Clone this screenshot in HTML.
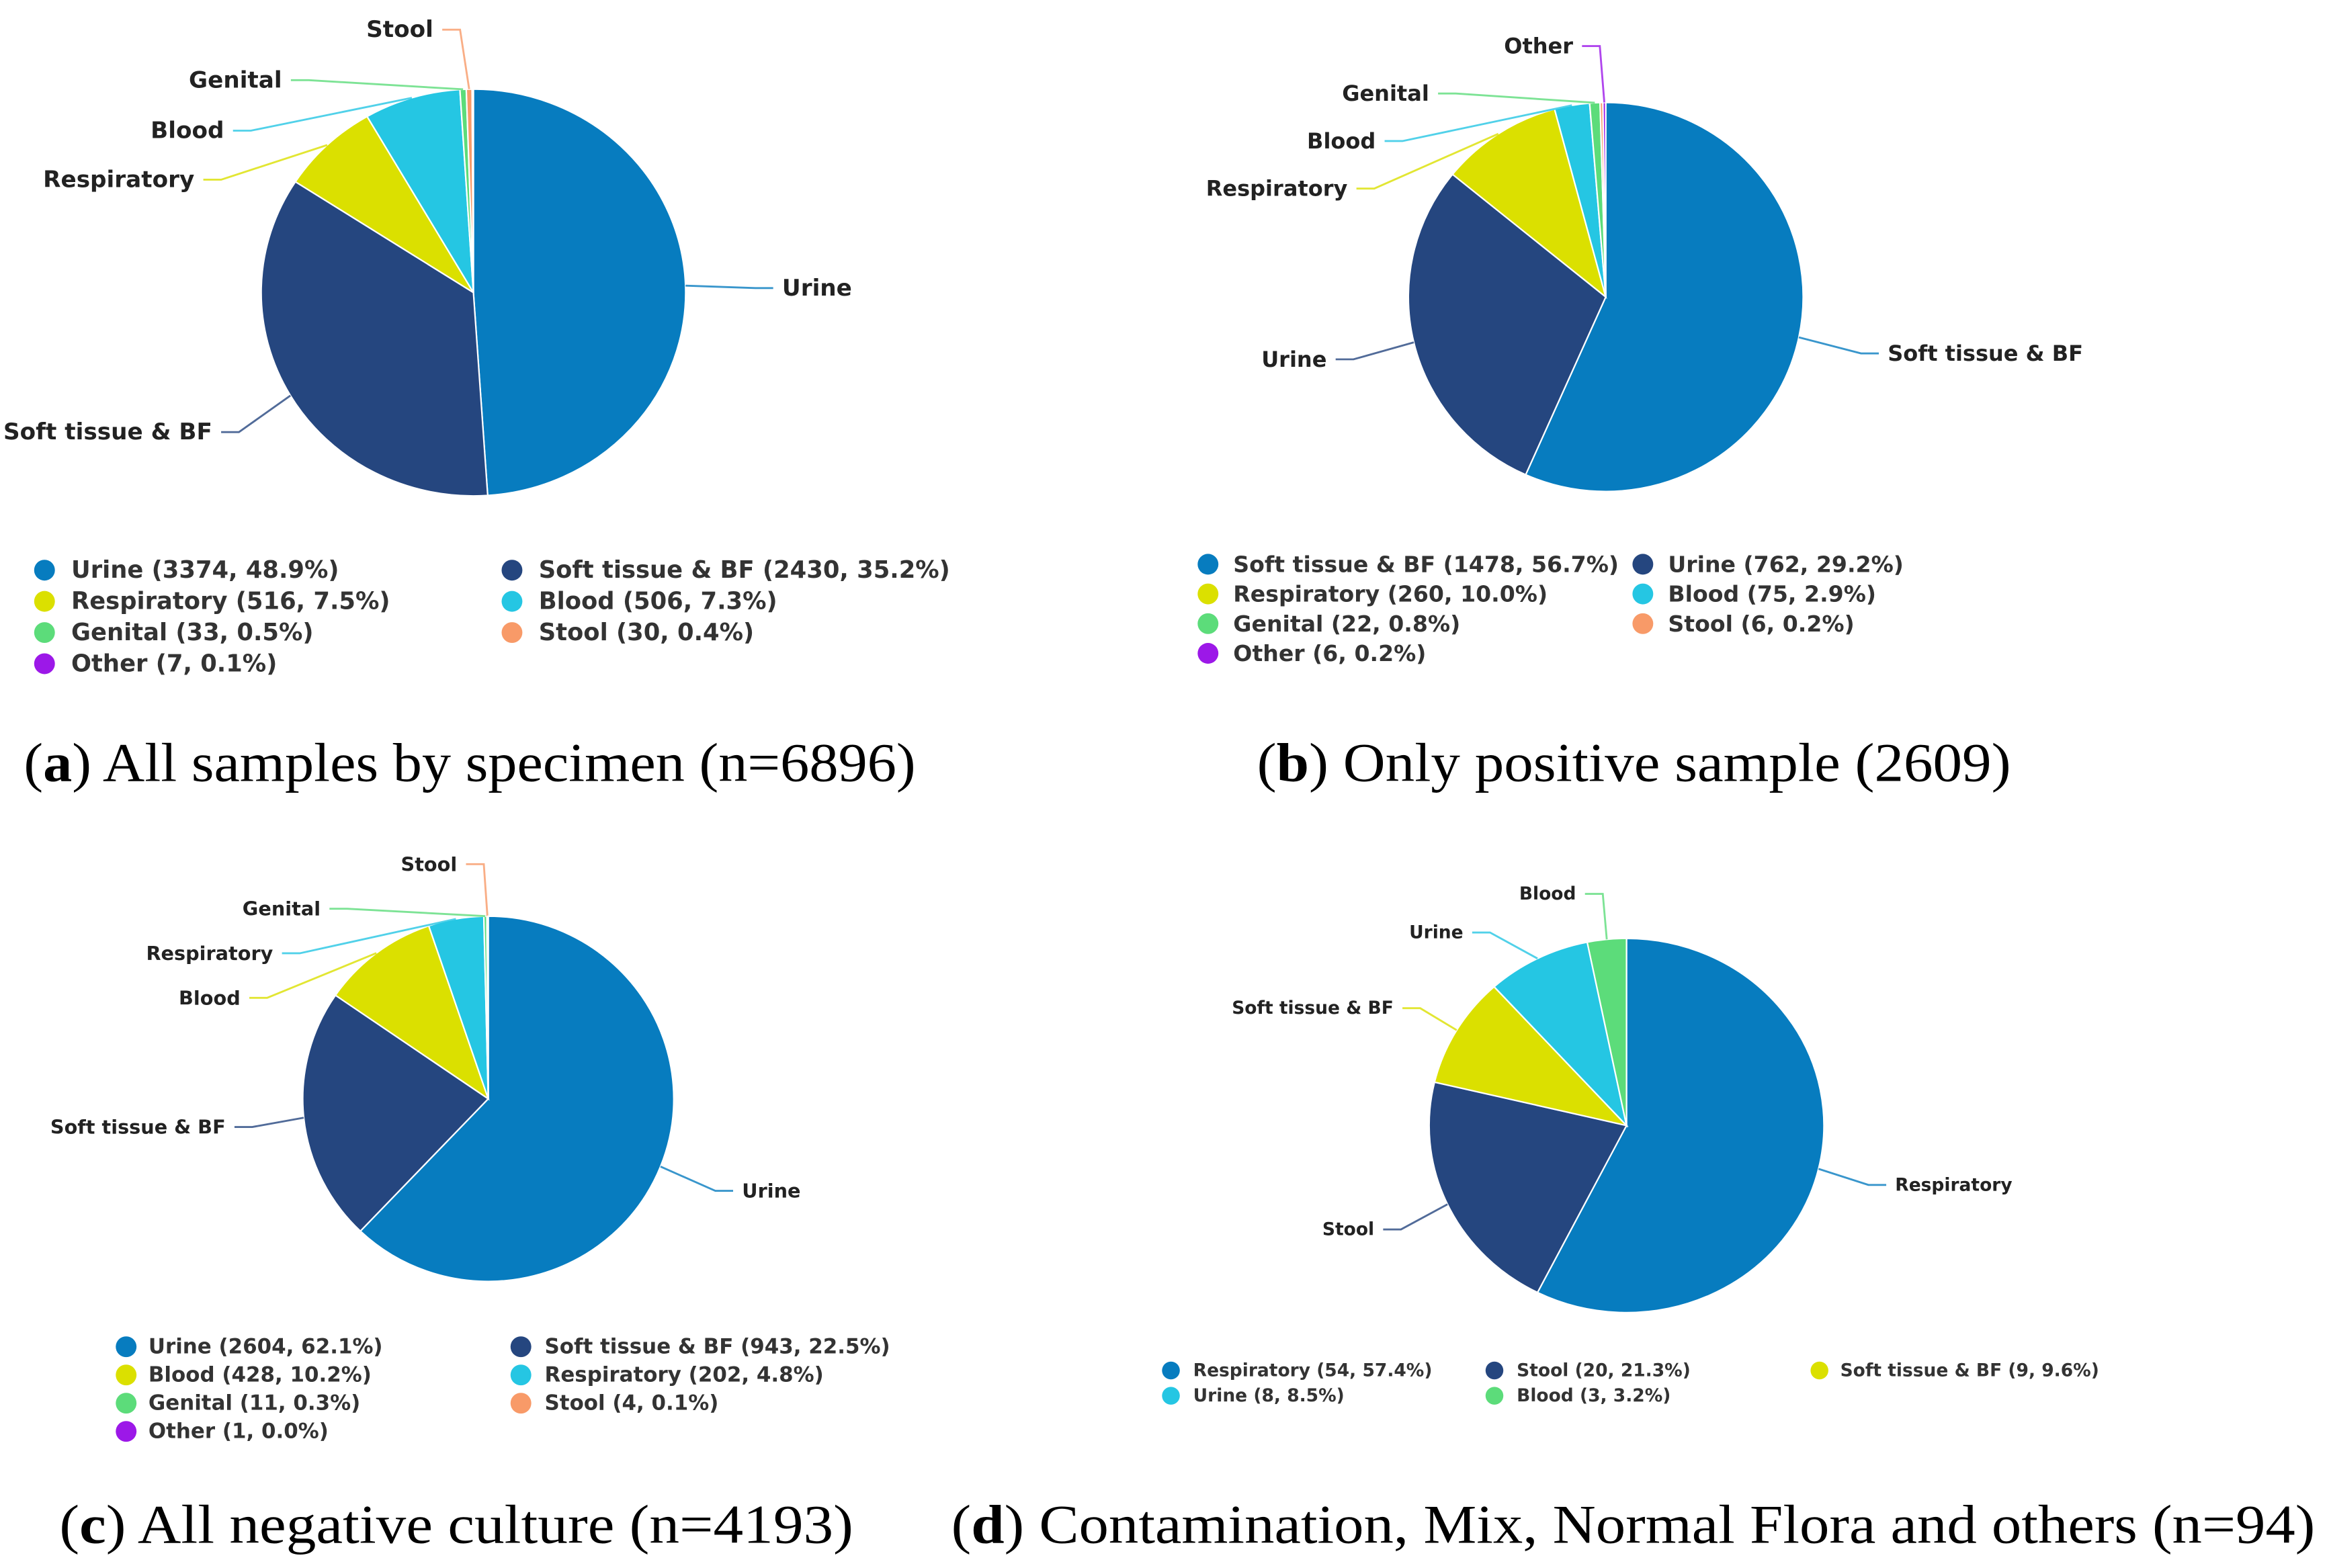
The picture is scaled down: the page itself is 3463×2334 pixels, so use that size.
<!DOCTYPE html>
<html><head><meta charset="utf-8"><style>
html,body{margin:0;padding:0;background:#fff}
svg{display:block}
.lbl{font-family:"DejaVu Sans","Liberation Sans",sans-serif;font-weight:bold;fill:#222}
.leg{font-family:"DejaVu Sans","Liberation Sans",sans-serif;font-weight:bold;fill:#333}
.cap{font-family:"Liberation Serif",serif;fill:#000}
</style></head><body>
<svg id="root" width="3463" height="2334" viewBox="0 0 1568 1056" preserveAspectRatio="none" xmlns="http://www.w3.org/2000/svg">
<text class="cap" x="16" y="526" font-size="37" textLength="601" lengthAdjust="spacingAndGlyphs">(<tspan font-weight="bold">a</tspan>) All samples by specimen (n=6896)</text>
<text class="cap" x="847" y="526" font-size="37" textLength="508" lengthAdjust="spacingAndGlyphs">(<tspan font-weight="bold">b</tspan>) Only positive sample (2609)</text>
<text class="cap" x="40" y="1039" font-size="37" textLength="535" lengthAdjust="spacingAndGlyphs">(<tspan font-weight="bold">c</tspan>) All negative culture (n=4193)</text>
<text class="cap" x="641" y="1039" font-size="37" textLength="919" lengthAdjust="spacingAndGlyphs">(<tspan font-weight="bold">d</tspan>) Contamination, Mix, Normal Flora and others (n=94)</text>
</svg>
<script>
const palette=['#077cbf','#25467f','#dbe000','#25c6e3','#5cdc7a','#f89a68','#9c18e8'];
// Panel data
const aCats=['Urine','Soft tissue & BF','Respiratory','Blood','Genital','Stool','Other'];
const aCounts=[3374,2430,516,506,33,30,7];
const aPcts=[48.9,35.2,7.5,7.3,0.5,0.4,0.1];
const bCats=['Soft tissue & BF','Urine','Respiratory','Blood','Genital','Stool','Other'];
const bCounts=[1478,762,260,75,22,6,6];
const bPcts=[56.7,29.2,10.0,2.9,0.8,0.2,0.2];
const cCats=['Urine','Soft tissue & BF','Blood','Respiratory','Genital','Stool','Other'];
const cCounts=[2604,943,428,202,11,4,1];
const cPcts=[62.1,22.5,10.2,4.8,0.3,0.1,0.0];
const dCats=['Respiratory','Stool','Soft tissue & BF','Urine','Blood'];
const dCounts=[54,20,9,8,3];
const dPcts=[57.4,21.3,9.6,8.5,3.2];

const NS='http://www.w3.org/2000/svg';
const root=document.getElementById('root');
function mk(tag,attrs,parent){const e=document.createElementNS(NS,tag);for(const k in attrs)e.setAttribute(k,attrs[k]);(parent||root).appendChild(e);return e;}

const panels=[
 {id:'a',cats:aCats,counts:aCounts,pcts:aPcts,cx:319,cy:197,rx:143,ry:137,lfs:15.5,
  labels:[[527,194,'start'],[143,291,'end'],[131,121,'end'],[151,88,'end'],[190,54,'end'],[292,20,'end'],null],
  legend:{rows:[384,405,426,447],cols:[[30,48],[345,363]],fs:16,mr:7}},
 {id:'b',cats:bCats,counts:bCounts,pcts:bPcts,cx:1082,cy:200,rx:133,ry:131,lfs:14.5,
  labels:[[1272,238,'start'],[894,242,'end'],[908,127,'end'],[927,95,'end'],[963,63,'end'],null,[1060,31,'end']],
  legend:{rows:[380,400,420,440],cols:[[814,831],[1107,1124]],fs:15,mr:7}},
 {id:'c',cats:cCats,counts:cCounts,pcts:cPcts,cx:329,cy:740,rx:125,ry:123,lfs:13,
  labels:[[500,802,'start'],[152,759,'end'],[162,672,'end'],[184,642,'end'],[216,612,'end'],[308,582,'end'],null],
  legend:{rows:[907,926,945,964],cols:[[85,100],[351,367]],fs:14,mr:7}},
 {id:'d',cats:dCats,counts:dCounts,pcts:dPcts,cx:1096,cy:758,rx:133,ry:126,lfs:12,
  labels:[[1277,798,'start'],[926,828,'end'],[939,679,'end'],[986,628,'end'],[1062,602,'end']],
  legend:{rows:[923,940],cols:[[789,804],[1007,1022],[1226,1240]],fs:12,mr:6}}
];

panels.forEach(p=>{
  const g=mk('g',{});
  
  
  const total=p.counts.reduce((s,v)=>s+v,0);
  let acc=0;
  const ptAt=(frac,k)=>{const t=frac*2*Math.PI-Math.PI/2;return [p.cx+p.rx*k*Math.cos(t),p.cy+p.ry*k*Math.sin(t)];};
  p.counts.forEach((v,i)=>{
    const f0=acc/total, f1=(acc+v)/total; acc+=v;
    const [x0,y0]=ptAt(f0,1),[x1,y1]=ptAt(f1,1);
    const large=(f1-f0)>0.5?1:0;
    const s=mk('path',{d:`M${p.cx},${p.cy} L${x0},${y0} A${p.rx},${p.ry} 0 ${large} 1 ${x1},${y1} Z`,fill:palette[i],stroke:'#fff','stroke-width':1},g);
    
    
    const L=p.labels[i];
    if(L){
      const mid=(f0+f1)/2;
      const [ex,ey]=ptAt(mid,1);
      const right=L[2]==='start';
      const lx=right?L[0]-6:L[0]+6, ly=L[1];
      const bx=right?lx-12:lx+12;
      mk('path',{d:`M${lx},${ly} L${bx},${ly} L${ex},${ey}`,fill:'none',stroke:palette[i],'stroke-width':1.3,'stroke-opacity':0.8},g);
      const t=mk('text',{x:L[0],y:L[1],'text-anchor':L[2],'dominant-baseline':'central','font-size':p.lfs,class:'lbl'},g);
      t.textContent=p.cats[i];
      
      
    }
  });
  const lg=p.legend, nc=lg.cols.length;
  p.cats.forEach((c,i)=>{
    const row=Math.floor(i/nc), col=i%nc;
    const y=lg.rows[row], [mx,tx]=lg.cols[col];
    const e=mk('g',{},g);
    
    
    mk('circle',{cx:mx,cy:y,r:lg.mr,fill:palette[i]},e);
    const t=mk('text',{x:tx,y:y,'dominant-baseline':'central','font-size':lg.fs,class:'leg'},e);
    t.textContent=`${c} (${p.counts[i]}, ${p.pcts[i].toFixed(1)}%)`;
  });
});
</script>
</body></html>
